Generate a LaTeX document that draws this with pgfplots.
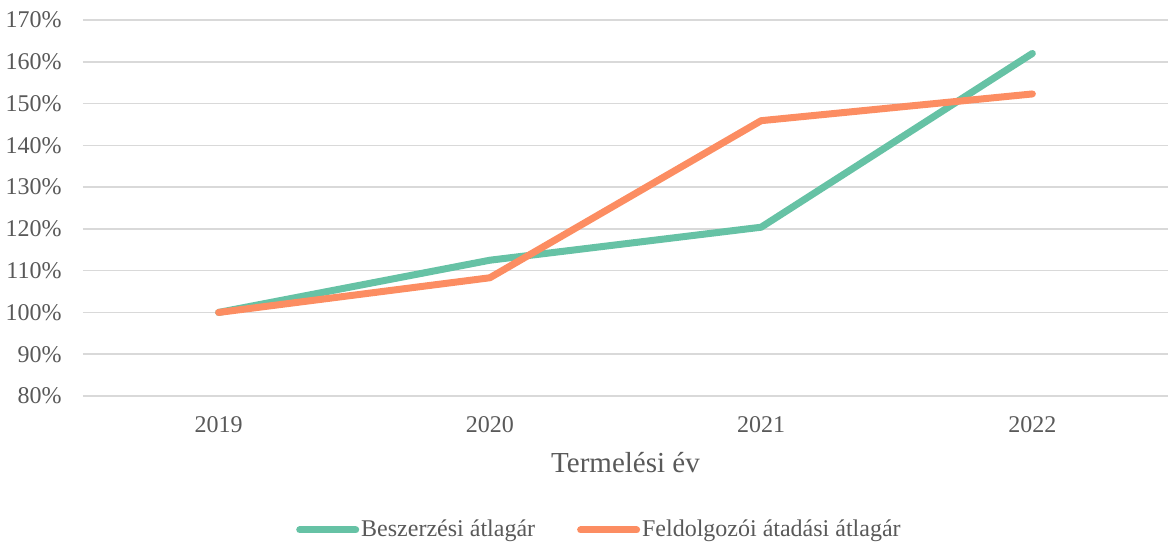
\documentclass[border=0pt]{standalone}
\usepackage{fontspec}
\setmainfont{Liberation Serif}
\usepackage{pgfplots}
\pgfplotsset{compat=1.18}

\definecolor{beszGreen}{HTML}{66C2A5}
\definecolor{feldOrange}{HTML}{FC8D62}
\definecolor{gridGray}{HTML}{D9D9D9}
\definecolor{textGray}{HTML}{595959}

\begin{document}
\begin{tikzpicture}
\begin{axis}[
	scale only axis,
	width=542.5pt,
	height=188pt,
	xmin=-0.5, xmax=3.5,
	ymin=80, ymax=170,
	xtick={0,1,2,3},
	xticklabels={2019,2020,2021,2022},
	ytick={80,90,...,170},
	yticklabel={\pgfmathprintnumber{\tick}\%},
	/pgf/number format/assume math mode=true,
	axis line style={draw=none},
	ymajorgrids,
	major grid style={draw=gridGray,line width=0.75pt},
	major tick length=0pt,
	font=\fontsize{12}{14}\selectfont,
	tick label style={text=textGray,font=\fontsize{12}{14}\selectfont},
	yticklabel style={anchor=east,inner sep=0pt,xshift=-10.5pt},
	xticklabel style={anchor=center,inner sep=0pt,yshift=-14.5pt},
	xlabel={Termelési év},
	xlabel style={at={(axis description cs:0.5,0)},anchor=center,yshift=-33.5pt,
		text=textGray,font=\fontsize{14.5}{16}\selectfont},
	legend style={at={(axis description cs:0.476,0)},anchor=center,yshift=-67pt,
		draw=none,fill=none,text=textGray,font=\fontsize{12}{14}\selectfont,
		legend columns=2,
		nodes={inner sep=1pt},
		/tikz/every even column/.append style={column sep=20pt}},
	legend image code/.code={\draw[#1,line cap=round] (-5pt,0pt) -- (23pt,0pt);},
	every axis plot/.append style={line width=3.5pt,line cap=round,line join=round},
]
\addplot[color=beszGreen] coordinates {(0,100) (1,112.5) (2,120.4) (3,162.0)};
\addlegendentry{Beszerzési átlagár}
\addplot[color=feldOrange] coordinates {(0,100) (1,108.3) (2,145.9) (3,152.3)};
\addlegendentry{Feldolgozói átadási átlagár}
\end{axis}
\pgfresetboundingbox
\path[use as bounding box] ([xshift=-41.5pt,yshift=-73.5pt]current axis.south west)
	rectangle ([yshift=10pt]current axis.north east);
\end{tikzpicture}
\end{document}
